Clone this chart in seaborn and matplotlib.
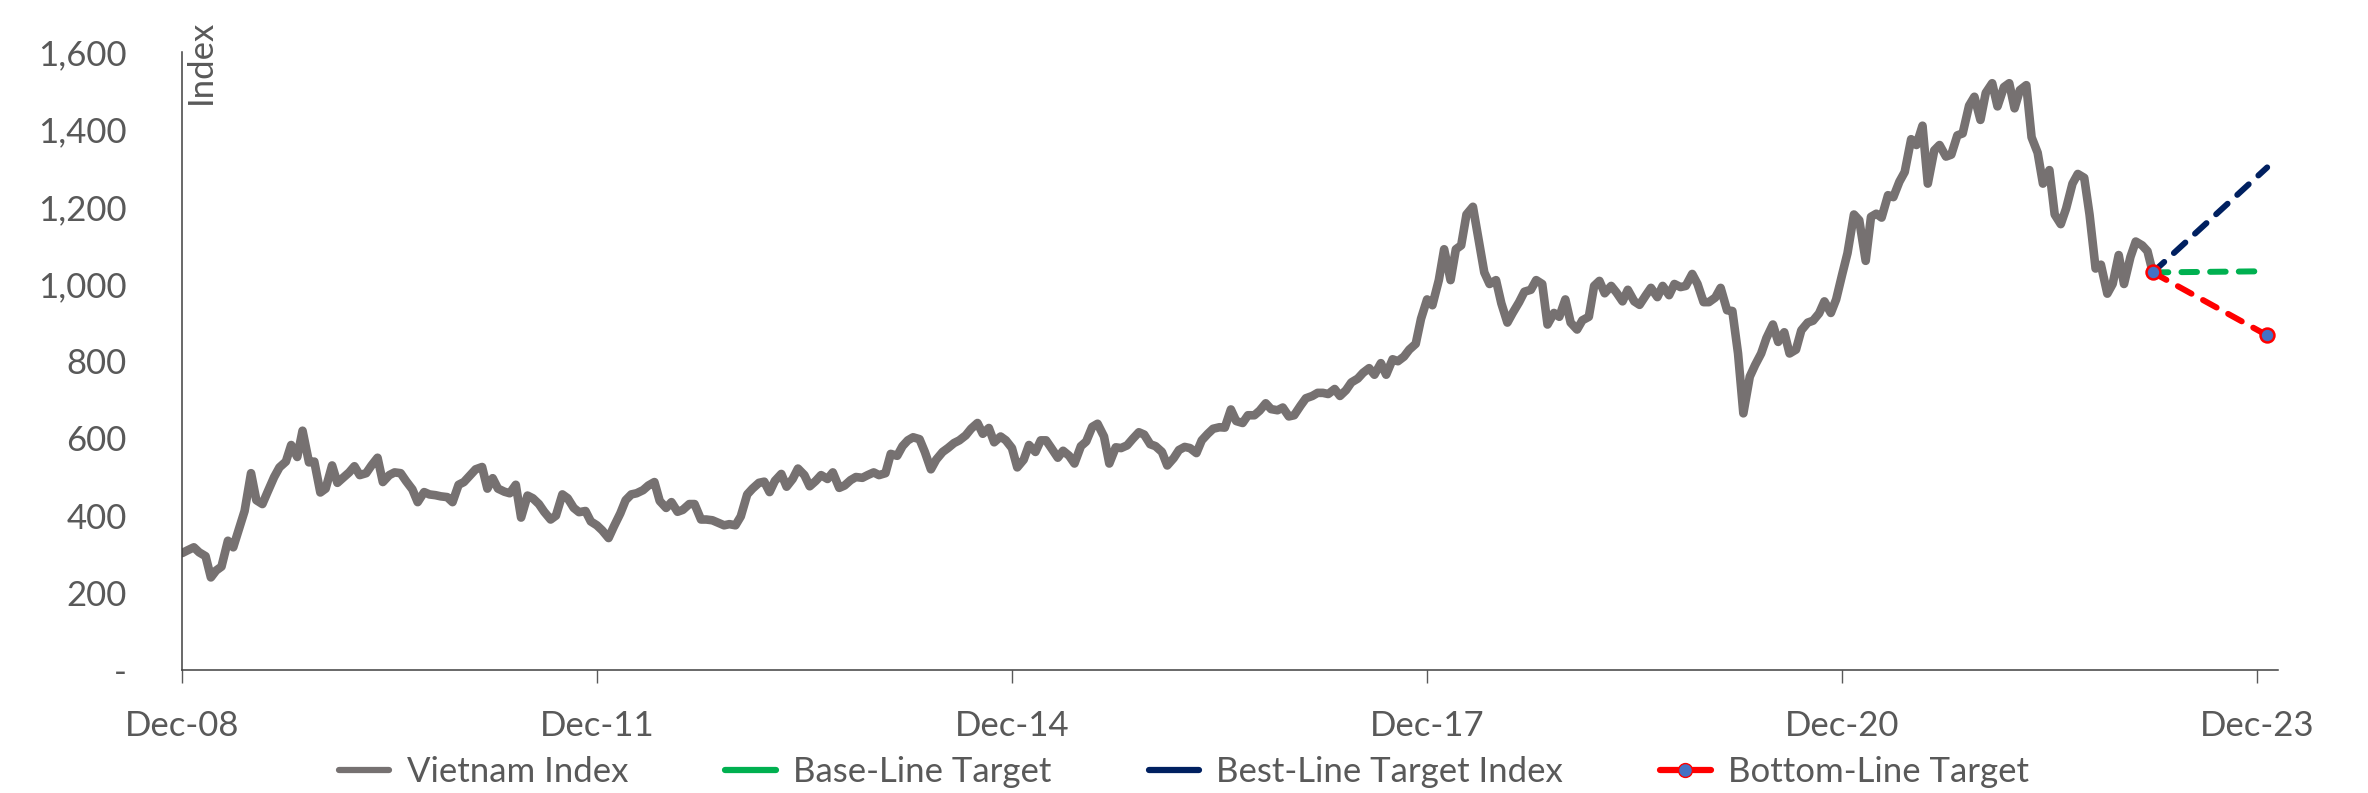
# Vietnam Index with 2023 target scenarios
import pandas as pd
import matplotlib.pyplot as plt
import seaborn as sns
from matplotlib.lines import Line2D

# ------------------------------------------------------------
# Data (twice a month)
# ------------------------------------------------------------
start_date = "2008-12-01"
vn_index = [
    # Dec-08 .. Mar-11
    303, 310, 318, 305, 295, 240, 258, 268, 335, 318,
    368, 412, 510, 440, 430, 462, 500, 525, 540, 583,
    552, 620, 538, 540, 460, 470, 530, 485, 500, 512,
    528, 505, 510, 530, 550, 487, 505, 512, 510, 490,
    468, 435, 461, 455, 453, 450, 448, 435, 480, 487,
    505, 520, 526, 470, 497, 470, 462, 458, 480, 395,
    452, 445, 430, 410, 390, 400, 455, 445, 420, 409,
    412, 385, 375,
    # Dec-11 .. Oct-14
    362, 342, 372, 406, 440, 455, 458, 466, 478, 487,
    438, 420, 435, 410, 415, 430, 430, 390, 390, 388,
    382, 375, 378, 375, 398, 455, 470, 485, 488, 461,
    490, 508, 475, 495, 522, 505, 476, 490, 505, 495,
    512, 472, 478, 492, 500, 498, 505, 512, 505, 510,
    560, 555, 580, 595, 603, 598, 565, 520, 545, 565,
    575, 588, 595, 608, 625, 640, 612, 627, 590, 605,
    # Nov-14 .. Nov-17
    595, 575, 525, 545, 583, 565, 595, 595, 575, 550,
    568, 555, 535, 580, 592, 630, 638, 605, 535, 577,
    575, 582, 598, 616, 610, 585, 580, 565, 530, 549,
    570, 578, 575, 562, 595, 612, 625, 629, 628, 675,
    645, 640, 660, 660, 672, 691, 676, 673, 680, 657,
    660, 685, 704, 710, 718, 718, 715, 728, 710, 725,
    745, 755, 770, 782, 765, 795, 765, 805, 800, 812,
    830, 845,
    # Nov-17 .. Nov-20
    910, 960, 945, 1010, 1090, 1010, 1090, 1100, 1180, 1200,
    1120, 1030, 1000, 1010, 950, 900, 925, 953, 980, 985,
    1010, 1000, 895, 925, 915, 960, 900, 882, 906, 915,
    995, 1008, 976, 995, 978, 955, 985, 955, 946, 970,
    990, 966, 995, 971, 1000, 992, 995, 1026, 1000, 953,
    953, 965, 990, 932, 930, 820, 665, 760, 790, 820,
    860, 895, 850, 875, 820, 830, 880, 900, 905, 924,
    955, 925, 960,
    # Dec-20 .. Mar-23
    1025, 1080, 1180, 1165, 1060, 1174, 1182, 1172, 1230, 1225,
    1265, 1290, 1375, 1360, 1410, 1260, 1346, 1360, 1330, 1335,
    1385, 1390, 1462, 1485, 1425, 1495, 1520, 1460, 1510, 1520,
    1455, 1502, 1515, 1380, 1340, 1260, 1295, 1180, 1155, 1195,
    1260, 1285, 1275, 1180, 1040, 1050, 975, 1000, 1075, 1000,
    1070, 1110, 1100, 1085, 1030,
]

target_dates = ["2023-03-01", "2023-12-28"]
base_target = [1030, 1033]
best_target = [1030, 1302]
bottom_target = [1030, 867]

tick_dates = ["2008-12-01", "2011-12-01", "2014-12-01", "2017-12-01", "2020-12-01", "2023-12-01"]
tick_labels = ["Dec-08", "Dec-11", "Dec-14", "Dec-17", "Dec-20", "Dec-23"]
y_ticks = [0, 200, 400, 600, 800, 1000, 1200, 1400, 1600]
y_labels = ["-", "200", "400", "600", "800", "1,000", "1,200", "1,400", "1,600"]

GREY = "#767171"
GREEN = "#00B050"
NAVY = "#002060"
RED = "#FF0000"
MARKER_BLUE = "#4472C4"
TEXT = "#595959"

# ------------------------------------------------------------
# Style
# ------------------------------------------------------------
sns.set_style("white")
plt.rcParams["font.family"] = ["Lato", "DejaVu Sans"]

fig = plt.figure(figsize=(23.68, 7.93), dpi=100)
ax = fig.add_axes([0.0769, 0.155, 0.885, 0.779])

index_df = pd.DataFrame({
    "date": pd.date_range(start_date, periods=len(vn_index), freq="SMS"),
    "value": vn_index,
})
tdates = pd.to_datetime(target_dates)

sns.lineplot(data=index_df, x="date", y="value", color=GREY, lw=6.2, ax=ax,
             solid_joinstyle="round", solid_capstyle="round")

sns.lineplot(x=tdates, y=base_target, color=GREEN, lw=4.3, ax=ax,
             linestyle=(0, (2.6, 2.2)), dash_capstyle="round")
sns.lineplot(x=tdates, y=best_target, color=NAVY, lw=4.3, ax=ax,
             linestyle=(0, (2.6, 2.2)), dash_capstyle="round")
sns.lineplot(x=tdates, y=bottom_target, color=RED, lw=4.3, ax=ax,
             linestyle=(0, (2.6, 2.2)), dash_capstyle="round",
             marker="o", markersize=10, markerfacecolor=MARKER_BLUE,
             markeredgecolor=RED, markeredgewidth=1.8)

# ------------------------------------------------------------
# Axes
# ------------------------------------------------------------
ax.set_xlim(pd.Timestamp("2008-12-01"), pd.Timestamp("2024-01-25"))
ax.set_ylim(0, 1600)
ax.set_xticks(pd.to_datetime(tick_dates))
ax.set_xticklabels(tick_labels)
ax.set_yticks(y_ticks)
ax.set_yticklabels(y_labels)
ax.set_xlabel("")
ax.set_ylabel("")

ax.tick_params(axis="x", bottom=True, length=9, width=1, direction="out",
               color=TEXT, pad=20, labelsize=25, labelcolor=TEXT)
ax.tick_params(axis="y", left=False, length=0, pad=40, labelsize=25, labelcolor=TEXT)

for side in ["top", "right"]:
    ax.spines[side].set_visible(False)
for side in ["left", "bottom"]:
    ax.spines[side].set_color("#404040")
    ax.spines[side].set_linewidth(1.1)

fig.text(0.0782, 0.975, "Index", rotation=90, va="top", ha="left",
         fontsize=25, color=TEXT)

# ------------------------------------------------------------
# Legend
# ------------------------------------------------------------
handles = [
    Line2D([], [], color=GREY, lw=4.5),
    Line2D([], [], color=GREEN, lw=4.5),
    Line2D([], [], color=NAVY, lw=4.5),
    Line2D([], [], color=RED, lw=4.5, marker="o", markersize=10,
           markerfacecolor=MARKER_BLUE, markeredgecolor=RED),
]
labels = ["Vietnam Index", "Base-Line Target", "Best-Line Target Index", "Bottom-Line Target"]
fig.legend(handles, labels, loc="center", bbox_to_anchor=(0.5, 0.026), ncol=4,
           frameon=False, fontsize=25, labelcolor=TEXT, handlelength=1.45,
           handletextpad=0.5, columnspacing=2.8, borderpad=0)

fig.savefig("out.png", dpi=100)
